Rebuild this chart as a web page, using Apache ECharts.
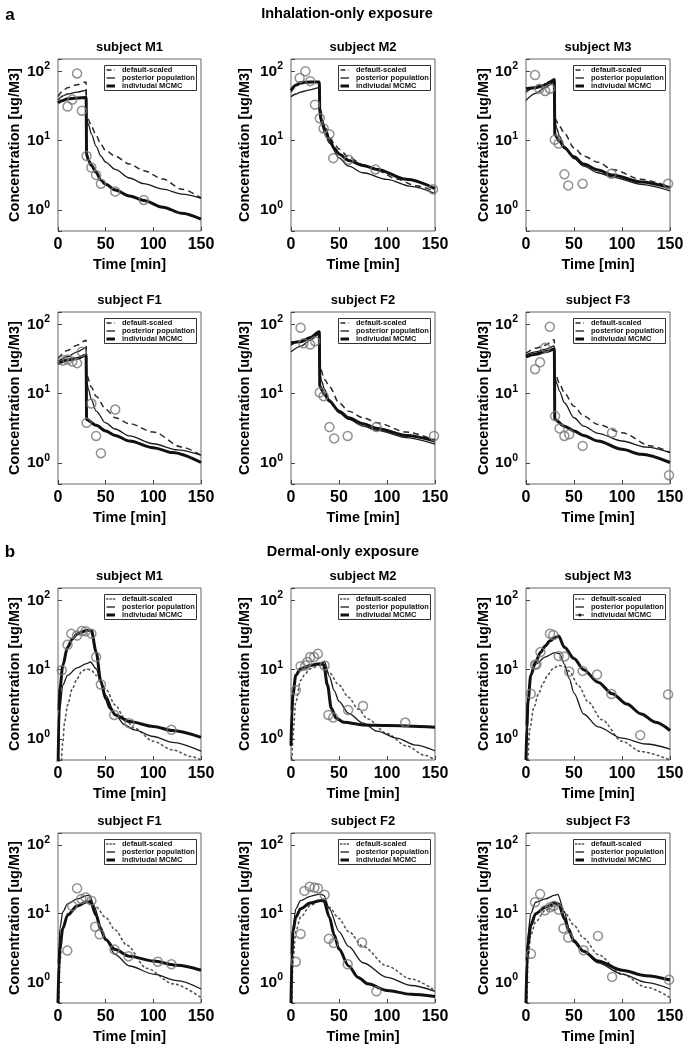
<!DOCTYPE html>
<html><head><meta charset="utf-8">
<script src="https://cdn.jsdelivr.net/npm/echarts@6/dist/echarts.min.js"></script>
<style>html,body{margin:0;padding:0;background:#fff}#c{width:689px;height:1050px}</style>
</head><body><div id="c"></div>
<script>
// ---------- tick labels / categories ----------
const xTicks = [0, 50, 100, 150];
const legendNames = ['default-scaled', 'posterior population', 'indiviudal MCMC'];
const sectionTitles = ['Inhalation-only exposure', 'Dermal-only exposure'];
const sectionLetters = ['a', 'b'];
const subjectTitles = ['subject M1','subject M2','subject M3','subject F1','subject F2','subject F3',
                       'subject M1','subject M2','subject M3','subject F1','subject F2','subject F3'];

// ---------- (a) Inhalation-only exposure : [time, concentration] ----------
const aM1_obs  = [[10,31],[15,39],[20,93],[25,27],[30,6.0],[35,4.1],[40,3.2],[45,2.4],[60,1.85],[90,1.4]];
const aM1_def  = [[0,43],[5,52],[10,58],[20,64],[29.5,70],[30,22],[32,20],[35,16],[40,12],[45,8.8],[50,7.2],[60,6.0],[75,4.6],[90,3.7],[110,2.8],[130,2.0],[150,1.5]];
const aM1_pop  = [[0,38],[5,44],[10,47],[20,50],[29.5,53],[30,20],[32,17],[35,12.5],[40,8.3],[45,6.0],[50,4.9],[60,3.85],[75,2.9],[90,2.4],[110,2.0],[130,1.7],[150,1.48]];
const aM1_mcmc = [[0,35],[5,38],[10,40],[20,41],[29.5,42],[30,6.3],[32,5.2],[35,4.4],[40,3.5],[45,2.7],[50,2.35],[60,1.95],[75,1.6],[90,1.38],[110,1.1],[130,0.9],[150,0.74]];

const aM2_obs  = [[9,80],[15,100],[20,72],[25,33],[30,21],[34,15],[40,12.4],[44,5.6],[60,5.3],[88,3.85],[148,2.0]];
const aM2_def  = [[0,50],[5,60],[10,66],[20,69],[29.5,70],[30,30],[35,16],[40,11.5],[45,9],[50,7.6],[60,5.8],[75,4.5],[90,3.7],[110,2.8],[130,2.25],[150,1.85]];
const aM2_pop  = [[0,43],[5,47],[10,50],[20,54],[29.5,58],[30,22],[32,17],[35,12.8],[40,9.2],[50,5.65],[60,4.3],[75,3.45],[100,2.77],[125,2.2],[150,1.73]];
const aM2_mcmc = [[0,53],[5,63],[10,69],[20,70],[29.5,70],[30,25],[32,19],[35,15],[40,10.3],[45,7.8],[50,6.45],[60,5.2],[75,4.4],[90,3.85],[120,2.77],[150,2.04]];

const aM3_obs  = [[9.4,88],[14,56],[20,52],[25,56],[30,10.3],[34,9.1],[40,3.27],[44,2.27],[59,2.4],[89,3.34],[148,2.4]];
const aM3_def  = [[0,50],[10,60],[20,66],[29.5,76],[30,21],[35,16],[40,12.8],[50,7.86],[60,6.0],[75,4.9],[90,3.85],[120,2.77],[150,2.15]];
const aM3_pop  = [[0,38],[10,48],[20,58],[29.5,70],[30,19],[32,15],[35,11.5],[40,8.3],[50,5.5],[60,4.3],[75,3.45],[90,2.99],[120,2.35],[150,1.89]];
const aM3_mcmc = [[0,56],[10,58],[20,63],[25,70],[29.5,76],[30,12.2],[35,9.8],[40,7.9],[50,5.85],[60,4.6],[75,3.77],[90,3.2],[120,2.54],[150,2.1]];

const aF1_obs  = [[5,30],[10,31],[15,29],[20,27.5],[25,40],[30,3.8],[35,7.2],[40,2.46],[45,1.39],[60,5.9]];
const aF1_def  = [[0,32],[10,42],[20,50],[29.5,59],[30,18.6],[35,12.5],[40,9.2],[50,6.0],[60,4.5],[75,3.7],[100,2.8],[130,1.7],[150,1.3]];
const aF1_pop  = [[0,29],[10,34],[20,40],[29.5,46],[30,15],[32,11.5],[35,8.2],[40,5.6],[50,3.8],[60,3.1],[75,2.46],[100,1.9],[125,1.55],[150,1.3]];
const aF1_mcmc = [[0,27],[10,30.6],[20,32],[29.5,36],[30,4.25],[40,3.5],[50,2.9],[60,2.5],[75,2.08],[100,1.67],[120,1.42],[150,1.02]];

const aF2_obs  = [[10,89],[13,53],[20,51],[25,57],[30,10.4],[34,9.2],[40,3.3],[45,2.27],[59,2.46],[89,3.3],[149,2.46]];
const aF2_def  = [[0,50],[10,58],[20,65],[29.5,78],[30,24.6],[35,16],[40,12.7],[50,7.4],[60,5.6],[75,4.5],[90,3.8],[120,2.8],[150,2.15]];
const aF2_pop  = [[0,40],[10,48],[20,59],[29.5,72],[30,19.7],[32,15],[35,11.4],[40,8.2],[50,5.3],[60,4.25],[75,3.4],[90,2.96],[120,2.33],[150,1.87]];
const aF2_mcmc = [[0,54],[10,56],[20,64],[29.5,78],[30,12.7],[35,9.7],[40,7.8],[50,5.6],[60,4.5],[75,3.7],[90,3.16],[120,2.5],[150,2.08]];

const aF3_obs  = [[9.4,22.5],[14.6,28.3],[20,46],[24.8,92],[30.3,4.75],[35,3.16],[40,2.46],[45,2.6],[59,1.77],[89.6,2.74],[149,0.67]];
const aF3_def  = [[0,38],[10,45],[20,50],[29.5,60],[30,19.7],[35,14],[40,10.2],[50,6.6],[60,4.75],[75,3.6],[100,2.74],[130,1.77],[150,1.42]];
const aF3_pop  = [[0,36],[10,40],[20,43.5],[29.5,48.6],[30,17.7],[32,14],[35,10.8],[40,7.4],[50,4.5],[60,3.4],[75,2.68],[100,2.08],[125,1.7],[150,1.42]];
const aF3_mcmc = [[0,34],[10,37],[20,40],[29.5,43.5],[30,4.25],[40,3.4],[50,2.9],[60,2.5],[75,2.08],[100,1.58],[120,1.34],[150,1.02]];

// ---------- (b) Dermal-only exposure : [time, concentration] ----------
const bM1_obs  = [[4,9.8],[10,22.8],[14,33],[20,31],[25,36],[29,35.8],[35,33],[40,15.2],[45,6.1],[59,2.23],[75,1.69],[119,1.36]];
const bM1_def  = [[3,0.3],[5,0.9],[7,1.8],[10,3.1],[15,5.3],[20,7.4],[25,9.5],[30,10.3],[35,9.8],[40,8.3],[50,5.3],[60,3.1],[70,2.0],[80,1.44],[100,0.93],[120,0.7],[140,0.56],[150,0.5]];
const bM1_pop  = [[0,0.3],[1,1.3],[2,2.77],[5,6],[10,8.3],[20,10.6],[30,12.2],[34,12.9],[40,10.3],[45,6.8],[50,4.3],[60,2.23],[70,1.6],[80,1.36],[100,1.09],[120,0.9],[150,0.67]];
const bM1_mcmc = [[0,0.3],[1,2.5],[2,5.3],[5,11.5],[10,21],[15,27.7],[20,32.6],[25,35],[30,37],[35,36.5],[40,18],[45,6.7],[50,3.85],[55,2.77],[60,2.23],[75,1.79],[100,1.52],[120,1.33],[150,1.06]];

const bM2_obs  = [[5,5.07],[10,11.2],[15,11.5],[17,12.9],[20,15.2],[24,15.2],[28,16.9],[35,11.5],[39,2.23],[44,2.04],[59.5,2.62],[75,2.99],[119,1.73]];
const bM2_def  = [[1,0.5],[2,1.15],[5,3.45],[10,7],[15,8.8],[20,10.3],[30,11.5],[40,9],[50,6],[60,4],[70,2.7],[80,1.95],[100,1.2],[120,0.8],[140,0.58],[150,0.5]];
const bM2_pop  = [[0,0.8],[1,2.6],[2,4.8],[5,8.3],[10,9.8],[20,11.2],[30,12.2],[35,12.9],[40,8],[45,5],[50,3.5],[60,2.35],[75,1.7],[90,1.3],[110,1.03],[130,0.82],[150,0.68]];
const bM2_mcmc = [[0,0.8],[1,2.5],[2,4.3],[5,8.3],[10,10.3],[20,11.5],[30,12.2],[34,11.8],[38,6],[42,2.77],[47,2.0],[55,1.75],[75,1.6],[100,1.57],[150,1.48]];

const bM3_obs  = [[5,4.5],[9.4,11.8],[11,12],[15,17.9],[25,33],[28.5,31.6],[34,15.7],[40,15.5],[45,9.4],[59,9.6],[74,8.5],[89,4.45],[119,1.14],[148,4.4]];
const bM3_def  = [[2,0.5],[4,1.4],[8,2.8],[13,4.5],[18,6.5],[23,8.5],[28,10.3],[34,11.5],[40,11],[45,9.5],[55,5.8],[65,3.4],[79,1.9],[100,0.93],[120,0.66],[150,0.5]];
const bM3_pop  = [[0,0.5],[1,1.6],[2,3.4],[5,8.5],[10,12],[20,15.2],[30,17.6],[35,17],[40,12],[45,7.5],[50,4.6],[60,2.3],[75,1.5],[100,1.03],[125,0.85],[150,0.72]];
const bM3_mcmc = [[0,0.5],[1,1.5],[2,3.4],[5,8.3],[10,12.9],[15,17.6],[20,21.9],[25,26],[30,28.8],[34,30.5],[40,21],[50,14.5],[60,10],[75,6.6],[90,4.5],[105,3.2],[120,2.3],[135,1.75],[150,1.33]];

const bF1_obs  = [[9.8,2.9],[15,12.9],[20,23.5],[24.4,16.4],[29,17.3],[35,15.5],[39,6.45],[43.6,5.0],[59.3,3.0],[74,2.4],[104.7,2.0],[119,1.83]];
const bF1_def  = [[1,0.5],[2,2.0],[5,6.1],[10,10],[20,12.9],[30,14.7],[35,14],[40,12.5],[50,8.8],[60,5.8],[72,3.5],[93,1.6],[121,0.95],[150,0.6]];
const bF1_pop  = [[0,0.5],[1,3],[2,6.1],[5,10.6],[10,13.9],[20,16.4],[30,18.3],[33,18.6],[38,12.9],[45,6.45],[50,4.2],[60,2.54],[75,1.73],[100,1.32],[125,1.06],[150,0.8]];
const bF1_mcmc = [[0,0.5],[1,1.8],[2,3.2],[5,6.1],[10,9.5],[20,12.9],[30,14.9],[34,15.2],[40,9.5],[45,5.8],[50,4.2],[60,3.0],[75,2.4],[100,2.04],[125,1.77],[150,1.5]];

const bF2_obs  = [[5,2.0],[10,5.07],[14,21.5],[19.5,24.8],[24.4,24],[28,23.5],[35,18.9],[39.4,4.3],[44.6,3.73],[59,1.83],[74,3.8],[89,0.74]];
const bF2_def  = [[1,0.5],[2,2.04],[5,5.5],[10,8.9],[20,13.1],[30,15.5],[35,14.7],[40,12.4],[50,8.5],[60,5.5],[75,3.34],[100,1.73],[125,1.12],[150,0.76]];
const bF2_pop  = [[0,0.5],[1,3],[2,6.1],[5,11.8],[10,15.5],[20,17.9],[30,19.3],[34,18.6],[40,11.8],[50,5.5],[60,3.34],[75,1.93],[100,1.18],[125,0.9],[150,0.74]];
const bF2_mcmc = [[0,0.5],[1,2.5],[2,5.5],[5,8.9],[10,11.8],[20,14.3],[30,15.5],[34,15.8],[40,8.9],[45,4.9],[50,3.05],[60,1.73],[70,1.18],[80,0.95],[100,0.76],[125,0.67],[150,0.62]];

const bF3_obs  = [[5.2,2.6],[9.4,14.7],[14.7,19.3],[19.9,11.2],[25,12.4],[29,13.1],[34,11.5],[39,6.1],[44,4.5],[60,2.93],[75,4.75],[89.7,1.2],[149,1.09]];
const bF3_def  = [[1,0.5],[2,2.04],[5,4.9],[10,7.6],[20,11.2],[30,13.1],[35,13.1],[40,10.6],[50,6.8],[60,4.4],[75,2.54],[100,1.32],[125,0.85],[150,0.6]];
const bF3_pop  = [[0,0.5],[1,2.5],[2,4.9],[5,10],[10,14.7],[20,16.4],[30,18.6],[33,19.1],[40,10.6],[45,6.1],[50,4.2],[60,2.84],[75,1.93],[100,1.32],[125,1.0],[150,0.8]];
const bF3_mcmc = [[0,0.5],[1,2],[2,3.5],[5,6.8],[10,10],[20,12.4],[30,14.3],[34,13.9],[40,8.5],[45,5.5],[50,3.94],[60,2.84],[75,2.04],[100,1.5],[125,1.25],[150,1.08]];

// ---------- assembly ----------
const OBS  = [aM1_obs,aM2_obs,aM3_obs,aF1_obs,aF2_obs,aF3_obs,bM1_obs,bM2_obs,bM3_obs,bF1_obs,bF2_obs,bF3_obs];
const DEF  = [aM1_def,aM2_def,aM3_def,aF1_def,aF2_def,aF3_def,bM1_def,bM2_def,bM3_def,bF1_def,bF2_def,bF3_def];
const POP  = [aM1_pop,aM2_pop,aM3_pop,aF1_pop,aF2_pop,aF3_pop,bM1_pop,bM2_pop,bM3_pop,bF1_pop,bF2_pop,bF3_pop];
const MCMC = [aM1_mcmc,aM2_mcmc,aM3_mcmc,aF1_mcmc,aF2_mcmc,aF3_mcmc,bM1_mcmc,bM2_mcmc,bM3_mcmc,bF1_mcmc,bF2_mcmc,bF3_mcmc];

const F = '"Liberation Sans", Arial, Helvetica, sans-serif';
const W_ = 689;
const colL = [58, 291, 526], colW = [143, 144, 144];
const rowT = [59, 312, 588, 833], rowH = [172, 172, 172, 170];
const yNameGap = [36, 39, 28];
const LINE = '#1a1a1a';
const DASH_A = [6, 4], DOT_B = [1.6, 3.4];

const grids = [], xAxes = [], yAxes = [], series = [], graphics = [];

function isPow10(v) { const e = Math.log10(v); return Math.abs(e - Math.round(e)) < 1e-6; }

function legendBox(L, T, W, dermal, markerThird) {
  const bw = 92, bh = 25;
  const bx = Math.round(L + W - 5 - bw) + 0.5, by = Math.round(T + 6) + 0.5;
  const els = [];
  els.push({ type: 'rect', z: 100, silent: true, shape: { x: bx, y: by, width: bw, height: bh },
             style: { fill: '#fff', stroke: '#333', lineWidth: 1 } });
  const rows = [by + 4.5, by + 12.5, by + 20.5];
  const styles = [
    dermal ? { stroke: '#555', lineWidth: 1.4, lineDash: [1.4, 2], lineCap: 'round' }
           : { stroke: '#2a2a2a', lineWidth: 1.5, lineDash: [5, 3] },
    { stroke: LINE, lineWidth: 1.3 },
    markerThird ? { stroke: LINE, lineWidth: 1 } : { stroke: '#111', lineWidth: 3 }
  ];
  rows.forEach((yy, k) => {
    els.push({ type: 'line', z: 101, silent: true, shape: { x1: bx + 2, y1: yy, x2: bx + 10.5, y2: yy }, style: styles[k] });
    els.push({ type: 'text', z: 101, silent: true, x: bx + 17.5, y: yy,
      style: { text: legendNames[k], fontFamily: F, fontSize: 7.5, fontWeight: 'bold', fill: '#111',
               align: 'left', verticalAlign: 'middle' } });
  });
  if (markerThird) {
    els.push({ type: 'circle', z: 102, silent: true, shape: { cx: bx + 6.3, cy: rows[2], r: 1.5 }, style: { fill: '#111' } });
  }
  return els;
}

OBS.forEach((_, i) => {
  const r = Math.floor(i / 3), c = i % 3;
  const L = colL[c], T = rowT[r], W = colW[c], H = rowH[r];
  const dermal = i >= 6;
  grids.push({ left: L, top: T, width: W, height: H, show: true, borderColor: '#666', borderWidth: 1,
               backgroundColor: 'transparent', containLabel: false, outerBoundsMode: 'none' });
  xAxes.push({
    type: 'value', gridIndex: i, min: xTicks[0], max: xTicks[xTicks.length - 1], interval: 50,
    name: 'Time [min]', nameLocation: 'middle', nameGap: 26,
    nameTextStyle: { fontFamily: F, fontSize: 14.5, fontWeight: 'bold', color: '#000' },
    axisLine: { show: false }, splitLine: { show: false },
    axisTick: { show: true, inside: true, length: 4, lineStyle: { color: '#444' } },
    axisLabel: { margin: 6, fontFamily: F, fontSize: 16, fontWeight: 'bold', color: '#000' }
  });
  yAxes.push({
    type: 'log', logBase: 10, gridIndex: i, min: 0.5, max: 150,
    name: 'Concentration [ug/M3]', nameLocation: 'middle', nameRotate: 90, nameGap: yNameGap[c],
    nameTextStyle: { fontFamily: F, fontSize: 14.5, fontWeight: 'bold', color: '#000' },
    axisLine: { show: false }, splitLine: { show: false },
    axisTick: { show: true, inside: true, length: 4, lineStyle: { color: '#444' } },
    axisLabel: {
      margin: 8, fontFamily: F, fontSize: 15.5, fontWeight: 'bold', color: '#000',
      formatter: v => isPow10(v) ? '10{s|' + Math.round(Math.log10(v)) + '}' : '',
      rich: { s: { fontFamily: F, fontSize: 10.5, fontWeight: 'bold', color: '#000', padding: [0, 0, 10, 0] } }
    }
  });
  const common = { type: 'line', xAxisIndex: i, yAxisIndex: i, symbol: 'none', smooth: 0.3,
                   smoothMonotone: 'x', silent: true, animation: false, clip: true };
  series.push(Object.assign({}, common, { name: legendNames[0], data: DEF[i],
    itemStyle: { color: dermal ? '#555' : '#2a2a2a' },
    lineStyle: dermal ? { color: '#555', width: 1.6, type: DOT_B, cap: 'round' }
                      : { color: '#2a2a2a', width: 1.5, type: DASH_A } }));
  series.push(Object.assign({}, common, { name: legendNames[1], data: POP[i],
    itemStyle: { color: LINE }, lineStyle: { color: LINE, width: 1.3 } }));
  series.push(Object.assign({}, common, { name: legendNames[2], data: MCMC[i],
    itemStyle: { color: '#111' }, lineStyle: { color: '#111', width: 3 } }));
  series.push({ type: 'scatter', name: 'observed', xAxisIndex: i, yAxisIndex: i, data: OBS[i],
    symbol: 'circle', symbolSize: 9, silent: true, animation: false, z: 3,
    itemStyle: { color: 'rgba(0,0,0,0)', borderColor: '#777', borderWidth: 1.5 } });

  legendBox(L, T, W, dermal, i === 8).forEach(e => graphics.push(e));

  graphics.push({ type: 'text', x: L + W / 2, y: T - 12, silent: true, z: 100,
    style: { text: subjectTitles[i], fontFamily: F, fontSize: 13, fontWeight: 'bold', fill: '#000',
             align: 'center', verticalAlign: 'middle' } });
});

graphics.push({ type: 'text', x: 10, y: 15, style: { text: sectionLetters[0], fontFamily: F, fontSize: 17, fontWeight: 'bold', fill: '#000', align: 'center', verticalAlign: 'middle' } });
graphics.push({ type: 'text', x: 347, y: 14, style: { text: sectionTitles[0], fontFamily: F, fontSize: 14.5, fontWeight: 'bold', fill: '#000', align: 'center', verticalAlign: 'middle' } });
graphics.push({ type: 'text', x: 10, y: 552, style: { text: sectionLetters[1], fontFamily: F, fontSize: 17, fontWeight: 'bold', fill: '#000', align: 'center', verticalAlign: 'middle' } });
graphics.push({ type: 'text', x: 343, y: 552, style: { text: sectionTitles[1], fontFamily: F, fontSize: 14.5, fontWeight: 'bold', fill: '#000', align: 'center', verticalAlign: 'middle' } });

const chart = echarts.init(document.getElementById('c'), null, { renderer: 'canvas' });
chart.setOption({
  animation: false,
  backgroundColor: '#fff',
  textStyle: { fontFamily: F },
  grid: grids, xAxis: xAxes, yAxis: yAxes, series: series, graphic: graphics
});
</script></body></html>
